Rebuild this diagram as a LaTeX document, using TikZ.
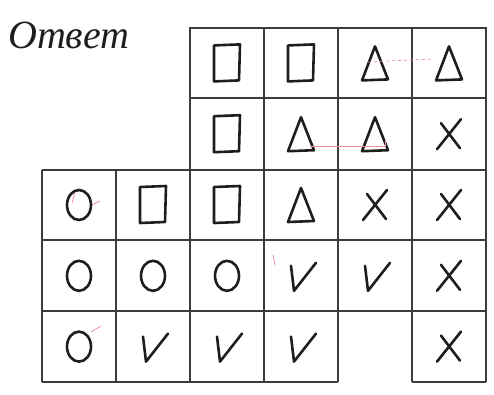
\documentclass[tikz,border=0pt]{standalone}
\usepackage{fontspec}
\setmainfont{Liberation Serif}
\usepackage{tikz}
\usetikzlibrary{calc}
\definecolor{inkBlack}{HTML}{1E1E1E}
\definecolor{gridGray}{HTML}{3C3C3C}
\definecolor{penRed}{HTML}{F08A96}
\tikzset{
  gridline/.style={draw=gridGray, line width=1.8pt},
  inkstroke/.style={draw=inkBlack, line width=2.6pt, line cap=round, line join=round},
  penstroke/.style={draw=penRed, line width=0.7pt},
  sqmark/.pic={\draw[inkstroke] (-13,-18) -- (13,-19) -- (12,17) -- (-13,18) -- cycle;},
  trimark/.pic={\draw[inkstroke] (0,-17) -- (13,16) -- (-13,17) -- cycle;},
  circmark/.pic={\draw[inkstroke] (0,0) ellipse[x radius=12, y radius=15];},
  crossmark/.pic={\draw[inkstroke] (-12,15) -- (12,-15); \draw[inkstroke] (-8,-11) -- (11,14);},
  tickmark/.pic={\draw[inkstroke] (-10,-10) -- (-7,15) -- (15,-13);},
}

\begin{document}
\begin{tikzpicture}[x=1pt,y=-1pt]
  \useasboundingbox (0,0) rectangle (494,394);

  % heading
  \node[anchor=base west, inner sep=0pt, font=\fontsize{40}{44}\selectfont\itshape, text=inkBlack] (answer) at (8,48) {Ответ};

  % upper block, four columns
  \draw[gridline] (190,28) rectangle (486,170);
  \draw[gridline] (190,98) -- (486,98);
  \foreach \x in {264,338,412}{\draw[gridline] (\x,28) -- (\x,170);}

  % lower block, six columns
  \draw[gridline] (42,170) -- (486,170);
  \draw[gridline] (42,240) -- (486,240);
  \draw[gridline] (42,311) -- (486,311);
  \draw[gridline] (42,382) -- (338,382);
  \draw[gridline] (412,382) -- (486,382);
  \foreach \x in {42,116,190,264,338,412,486}{\draw[gridline] (\x,170) -- (\x,382);}

  % symbols
  \foreach \c/\r in {3/1,4/1,3/2,2/3,3/3}{\pic at ({42+74*(\c-0.5)},{28+70.8*(\r-0.5)}) {sqmark};}
  \foreach \c/\r in {5/1,6/1,4/2,5/2,4/3}{\pic at ({42+74*(\c-0.5)},{28+70.8*(\r-0.5)}) {trimark};}
  \foreach \c/\r in {6/2,5/3,6/3,6/4,6/5}{\pic at ({42+74*(\c-0.5)},{28+70.8*(\r-0.5)}) {crossmark};}
  \foreach \c/\r in {1/3,1/4,2/4,3/4,1/5}{\pic at ({42+74*(\c-0.5)},{28+70.8*(\r-0.5)}) {circmark};}
  \foreach \c/\r in {4/4,5/4,2/5,3/5,4/5}{\pic at ({42+74*(\c-0.5)},{28+70.8*(\r-0.5)}) {tickmark};}

  % faint pen strokes
  \draw[penstroke, dashed] (368,62) -- (432,59);
  \draw[penstroke] (310,146) -- (385,146) -- (385,140);
  \draw[penstroke] (75,193) -- (72,203);
  \draw[penstroke] (92,205) -- (100,201);
  \draw[penstroke] (91,332) -- (101,326);
  \draw[penstroke] (273,255) -- (275,265);
\end{tikzpicture}
\end{document}
